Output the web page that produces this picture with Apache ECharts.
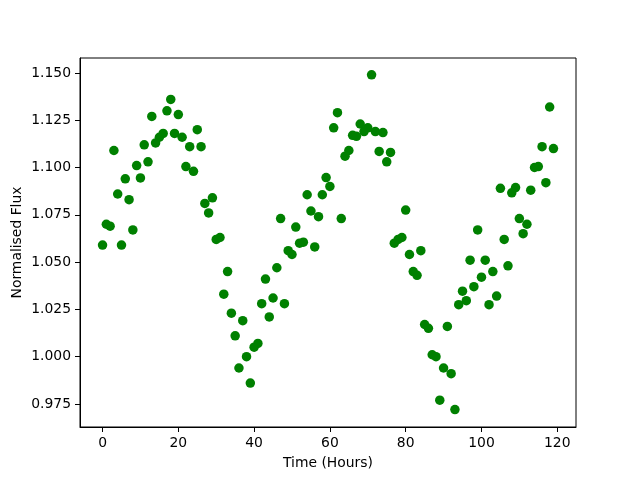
<!DOCTYPE html>
<html>
<head>
<meta charset="utf-8">
<script src="https://cdn.jsdelivr.net/npm/echarts@6/dist/echarts.min.js"></script>
<style>html,body{margin:0;padding:0;background:#fff;}#c{width:640px;height:480px;}</style>
</head>
<body>
<div id="c"></div>
<script>
const hours = [];
for (let i = 0; i < 120; i++) hours.push(i);
const flux = [
1.059,1.070,1.069,1.109,1.086,1.059,1.094,1.083,1.067,1.101,
1.0945,1.112,1.103,1.127,1.113,1.116,1.118,1.130,1.136,1.118,
1.128,1.116,1.1005,1.111,1.098,1.120,1.111,1.081,1.076,1.084,
1.062,1.063,1.033,1.045,1.023,1.011,0.994,1.019,1.000,0.986,
1.005,1.007,1.028,1.041,1.021,1.031,1.047,1.073,1.028,1.056,
1.054,1.0685,1.060,1.0605,1.0856,1.077,1.058,1.074,1.0856,1.0947,
1.090,1.121,1.129,1.073,1.106,1.109,1.117,1.1165,1.123,1.119,
1.121,1.149,1.119,1.1085,1.1185,1.103,1.108,1.060,1.062,1.063,
1.0775,1.054,1.045,1.043,1.056,1.017,1.015,1.001,1.000,0.977,
0.994,1.016,0.991,0.972,1.0275,1.0346,1.0296,1.051,1.037,1.067,
1.042,1.051,1.0275,1.045,1.032,1.089,1.062,1.048,1.0866,1.0894,
1.073,1.065,1.070,1.088,1.100,1.1005,1.111,1.092,1.132,1.110
];
const xTicks = [0, 20, 40, 60, 80, 100, 120];
const yTicks = [0.975, 1.000, 1.025, 1.050, 1.075, 1.100, 1.125, 1.150];

const data = hours.map((h, i) => [h, flux[i]]);
const font = 'DejaVu Sans';
const chart = echarts.init(document.getElementById('c'), null, {renderer: 'canvas'});
chart.setOption({
  animation: false,
  backgroundColor: '#ffffff',
  grid: {left: 80, right: 64, top: 58, bottom: 53, show: true, borderColor: '#000', borderWidth: 1, backgroundColor: 'transparent'},
  xAxis: {
    type: 'value', min: -5.95, max: 124.95,
    name: 'Time (Hours)', nameLocation: 'middle', nameGap: 29, nameMoveOverlap: false,
    nameTextStyle: {fontFamily: font, fontSize: 13.9, color: '#000'},
    axisLine: {show: true, onZero: false, lineStyle: {color: '#000', width: 1}},
    axisTick: {show: true, inside: false, length: 5, lineStyle: {color: '#000'}, customValues: xTicks},
    axisLabel: {fontFamily: font, fontSize: 13.9, color: '#000', margin: 9, customValues: xTicks, formatter: v => String(v)},
    splitLine: {show: false}
  },
  yAxis: {
    type: 'value', min: 0.9628, max: 1.1579,
    name: 'Normalised Flux', nameLocation: 'middle', nameGap: 56, nameRotate: 90, nameMoveOverlap: false,
    nameTextStyle: {fontFamily: font, fontSize: 13.9, color: '#000'},
    axisLine: {show: true, onZero: false, lineStyle: {color: '#000', width: 1}},
    axisTick: {show: true, inside: false, length: 5, lineStyle: {color: '#000'}, customValues: yTicks},
    axisLabel: {fontFamily: font, fontSize: 13.9, color: '#000', margin: 9, customValues: yTicks, formatter: v => v.toFixed(3)},
    splitLine: {show: false}
  },
  series: [{
    type: 'scatter',
    data: data,
    symbol: 'circle',
    symbolSize: 9.5,
    itemStyle: {color: '#008000', opacity: 1}
  }]
});
</script>
</body>
</html>
